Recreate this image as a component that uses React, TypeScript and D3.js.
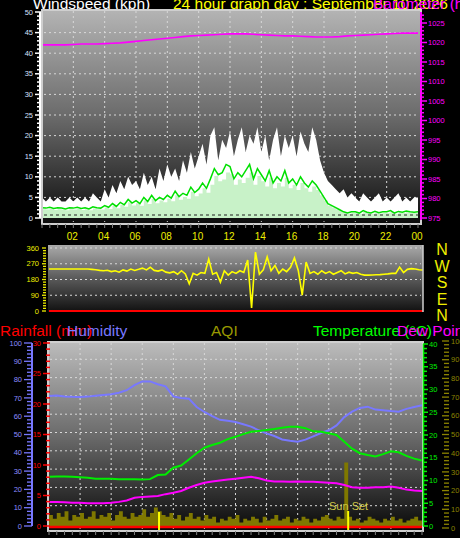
import React from "react";
import * as d3 from "d3";

// ---------- data ----------
const halfHours = d3.range(49).map((i) => i / 2);
const quarterHours = d3.range(97).map((i) => i / 4);
const hourTicks = [2, 4, 6, 8, 10, 12, 14, 16, 18, 20, 22, 24];
const hourLabels = ["02", "04", "06", "08", "10", "12", "14", "16", "18", "20", "22", "00"];
const speedTicks = [0, 5, 10, 15, 20, 25, 30, 35, 40, 45, 50];
const pressureTicks = [975, 980, 985, 990, 995, 1000, 1005, 1010, 1015, 1020, 1025];
const dirTicks = [0, 90, 180, 270, 360];
const compassLabels = ["N", "W", "S", "E", "N"];
const humidityTicks = [0, 10, 20, 30, 40, 50, 60, 70, 80, 90, 100];
const rainTicks = [0, 5, 10, 15, 20, 25, 30];
const tempTicks = [0, 5, 10, 15, 20, 25, 30, 35, 40];
const aqiTicks = [0, 10, 20, 30, 40, 50, 60, 70, 80, 90, 100];

// half-hourly series
const humidity = [
  71.0, 71.3, 70.8, 70.6, 70.5, 70.7, 71.2, 71.6, 72.0, 72.8, 74.2, 77.0, 79.0, 79.0, 77.5, 76.3,
  70.8, 70.0, 69.6, 65.0, 62.3, 60.0, 58.0, 57.5, 56.8, 55.6, 54.3, 52.3, 50.6, 49.2, 47.3, 46.6,
  46.1, 47.2, 49.0, 50.8, 52.3, 55.0, 59.5, 62.5, 64.5, 65.2, 63.6, 63.3, 62.8, 62.5, 64.0, 65.0, 66.0,
];
const temperature = [
  10.8, 10.9, 10.9, 10.8, 10.7, 10.6, 10.4, 10.4, 10.4, 10.3, 10.3, 10.3, 10.2, 10.3, 11.2, 11.3,
  12.8, 13.3, 14.6, 16.0, 17.2, 17.8, 18.3, 19.1, 19.6, 20.2, 20.7, 20.9, 21.1, 21.3, 21.6, 21.8,
  21.8, 21.5, 20.8, 20.7, 20.4, 20.0, 18.5, 17.0, 16.0, 15.6, 15.3, 15.8, 16.4, 16.2, 15.4, 14.8, 14.4,
];
const dewPoint = [
  5.3, 5.3, 5.2, 5.1, 5.1, 5.0, 5.0, 5.0, 5.1, 5.3, 5.6, 6.2, 6.4, 6.5, 6.6, 7.0,
  7.3, 7.7, 8.4, 9.0, 9.5, 9.8, 10.0, 10.2, 10.4, 10.6, 10.8, 10.5, 10.0, 9.8, 9.8, 9.7,
  9.8, 9.7, 9.7, 9.6, 9.5, 9.4, 9.0, 8.5, 8.4, 8.4, 8.5, 8.5, 8.7, 8.4, 8.0, 7.8, 7.7,
];
const pressure = [
  1019.4, 1019.4, 1019.4, 1019.4, 1019.5, 1019.6, 1019.6, 1019.6, 1019.7, 1019.8, 1019.9, 1020.1,
  1020.3, 1020.5, 1020.7, 1020.9, 1021.1, 1021.3, 1021.5, 1021.7, 1021.8, 1021.9, 1022.0, 1022.1,
  1022.2, 1022.2, 1022.2, 1022.1, 1022.0, 1021.9, 1021.8, 1021.7, 1021.7, 1021.6, 1021.5, 1021.4,
  1021.4, 1021.4, 1021.5, 1021.7, 1021.8, 1021.9, 1022.0, 1022.1, 1022.2, 1022.3, 1022.4, 1022.4, 1022.4,
];

// quarter-hourly series
const aqi = [
  7, 5, 8, 6, 9, 4, 7, 6,
  8, 5, 6, 9, 5, 7, 6, 8,
  4, 7, 9, 6, 5, 8, 6, 7,
  10, 6, 8, 11, 9, 7, 6, 8,
  5, 7, 4, 6, 8, 5, 6, 4,
  7, 5, 6, 3, 5, 4, 6, 5,
  7, 3, 5, 4, 6, 5, 3, 6,
  4, 5, 7, 4, 5, 6, 3, 5,
  4, 6, 5, 3, 5, 4, 6, 7,
  5, 4, 6, 5, 35, 6, 4, 5,
  3, 4, 6, 5, 4, 3, 5, 4,
  6, 4, 5, 3, 4, 5, 6, 4,
  8,
];
const windGust = [
  5, 4, 5, 4, 5, 4, 4, 5,
  4, 5, 4, 5, 4, 6, 5, 4,
  7, 5, 8, 6, 9, 7, 10, 8,
  9, 7, 11, 8, 10, 7, 12, 9,
  13, 10, 12, 9, 14, 11, 16, 12,
  15, 18, 13, 20, 22, 14, 19, 17,
  21, 15, 19, 22, 16, 20, 18, 22,
  16, 20, 14, 19, 22, 15, 20, 17,
  20, 15, 21, 18, 16, 22, 19, 14,
  11, 9, 8, 7, 6, 7, 5, 6,
  5, 4, 6, 5, 4, 5, 6, 4,
  5, 4, 5, 6, 4, 5, 4, 5,
  5,
];
const windAvg = [
  2.5, 2.4, 2.6, 2.3, 2.5, 2.4, 2.2, 2.5,
  2.4, 2.6, 2.3, 2.5, 2.2, 2.7, 2.5, 2.4,
  3.0, 2.6, 3.5, 2.8, 3.8, 3.2, 4.5, 3.6,
  4.2, 3.5, 5.0, 4.0, 5.5, 4.2, 5.0, 4.5,
  5.5, 4.8, 6.5, 5.2, 6.0, 5.5, 7.5, 6.2,
  7.0, 8.5, 7.2, 9.5, 12.0, 10.5, 11.0, 13.0,
  12.5, 9.5, 11.0, 10.0, 11.5, 13.0, 9.5, 12.0,
  10.5, 9.0, 11.5, 8.5, 10.0, 9.0, 11.5, 8.5,
  9.5, 8.0, 10.0, 8.5, 7.5, 9.0, 8.0, 6.5,
  5.0, 3.5, 3.0, 2.5, 2.0, 1.5, 1.2, 1.5,
  1.5, 1.2, 1.8, 1.4, 1.2, 1.6, 1.3, 1.5,
  1.5, 1.8, 1.2, 1.6, 1.4, 1.7, 1.5, 1.4,
  1.5,
];
const windDir = [
  240, 240, 240, 240, 240, 240, 240, 240,
  240, 240, 240, 238, 236, 232, 230, 233,
  225, 230, 222, 235, 228, 240, 232, 238,
  245, 235, 250, 232, 228, 235, 222, 218,
  225, 210, 230, 212, 155, 215, 205, 220,
  215, 297, 210, 220, 165, 230, 205, 225,
  215, 230, 220, 291, 17, 337, 210, 235,
  309, 230, 260, 215, 240, 225, 250, 303,
  230, 91, 280, 215, 225, 210, 230, 215,
  225, 210, 220, 230, 212, 222, 215, 220,
  210, 205, 205, 206, 207, 208, 210, 212,
  215, 215, 251, 220, 238, 242, 240, 236,
  234,
];

const FONT = "'Liberation Sans', Arial, Helvetica, sans-serif";
const GRID = "#d8d8d8";

export default function App() {
  // scales
  const xTop = d3.scaleLinear().domain([0, 24]).range([42, 418]);
  const ySpeed = d3.scaleLinear().domain([0, 50]).range([218, 12]);
  const yPress = d3.scaleLinear().domain([975, 1025]).range([218, 23]);
  const xMid = d3.scaleLinear().domain([0, 24]).range([49, 423]);
  const yDir = d3.scaleLinear().domain([0, 360]).range([311, 248]);
  const xBot = d3.scaleLinear().domain([0, 24]).range([49, 422]);
  const yHum = d3.scaleLinear().domain([0, 100]).range([526, 343]);
  const yRain = d3.scaleLinear().domain([0, 30]).range([526, 343]);
  const yTemp = d3.scaleLinear().domain([0, 40]).range([526, 344]);
  const yAqi = d3.scaleLinear().domain([0, 100]).range([528, 341]);

  // shapes
  const gustArea = d3
    .area<number>()
    .x((_, i) => xTop(quarterHours[i]))
    .y0(ySpeed(0))
    .y1((d) => ySpeed(d))
    .curve(d3.curveLinear);
  const avgArea = d3
    .area<number>()
    .x((_, i) => xTop(quarterHours[i]))
    .y0(ySpeed(0))
    .y1((d) => ySpeed(d * 0.85))
    .curve(d3.curveStepAfter);
  const avgLine = d3
    .line<number>()
    .x((_, i) => xTop(quarterHours[i]))
    .y((d) => ySpeed(d));
  const pressLine = d3
    .line<number>()
    .x((_, i) => xTop(halfHours[i]))
    .y((d) => yPress(d));
  const dirLine = d3
    .line<number>()
    .x((_, i) => xMid(quarterHours[i]))
    .y((d) => yDir(d));
  const aqiArea = d3
    .area<number>()
    .x((_, i) => xBot(quarterHours[i]))
    .y0(yAqi(0))
    .y1((d) => yAqi(d))
    .curve(d3.curveStepAfter);
  const botLine = (ys: d3.ScaleLinear<number, number>) =>
    d3
      .line<number>()
      .x((_, i) => xBot(halfHours[i]))
      .y((d) => ys(d));

  const halfHourMarks = d3.range(0, 24.01, 0.5);

  return (
    <svg
      width={460}
      height={538}
      style={{ position: "absolute", left: 0, top: 0, background: "#000" }}
      fontFamily={FONT}
    >
      <defs>
        <linearGradient id="gTop" x1="0" y1="0" x2="0" y2="1">
          <stop offset="0" stopColor="#b4b4b4" />
          <stop offset="0.5" stopColor="#6a6a6a" />
          <stop offset="1" stopColor="#0c0c0c" />
        </linearGradient>
        <linearGradient id="gMid" x1="0" y1="0" x2="0" y2="1">
          <stop offset="0" stopColor="#aaaaaa" />
          <stop offset="0.5" stopColor="#5a5a5a" />
          <stop offset="1" stopColor="#101010" />
        </linearGradient>
        <linearGradient id="gBot" x1="0" y1="0" x2="0" y2="1">
          <stop offset="0" stopColor="#bcbcbc" />
          <stop offset="0.5" stopColor="#6a6a6a" />
          <stop offset="1" stopColor="#080808" />
        </linearGradient>
      </defs>
      <rect x={0} y={0} width={460} height={538} fill="#000" />

      {/* ---------- TOP PANEL ---------- */}
      <text x={33} y={9} fontSize={15.5} fill="#ffffff">Windspeed (kph)</text>
      <text x={173} y={9} fontSize={15.5} fill="#ffff00">24 hour graph day : September 10 2026</text>
      <text x={373} y={9} fontSize={15.5} fill="#ff00ff">Barometer (hPa)</text>

      <rect x={42} y={10} width={379} height={214} fill="url(#gTop)" />
      {speedTicks.slice(1, -1).map((t) => (
        <line key={"hs" + t} x1={44} x2={419} y1={ySpeed(t)} y2={ySpeed(t)} stroke={GRID} strokeDasharray="2,3" />
      ))}
      {hourTicks.slice(0, -1).map((h) => (
        <line key={"vt" + h} x1={xTop(h)} x2={xTop(h)} y1={11} y2={222} stroke={GRID} strokeDasharray="2,3" />
      ))}
      <path d={gustArea(windGust) ?? ""} fill="#ffffff" />
      <path d={avgArea(windAvg) ?? ""} fill="#c8f2c8" />
      <path d={avgLine(windAvg) ?? ""} fill="none" stroke="#00e000" strokeWidth={1.5} />
      <line x1={44} x2={419} y1={ySpeed(0) - 3} y2={ySpeed(0) - 3} stroke="#202020" strokeWidth={1} strokeDasharray="3,3" />
      <path d={pressLine(pressure) ?? ""} fill="none" stroke="#ff00ff" strokeWidth={1.6} />
      <rect x={42} y={10} width={379} height={214} fill="none" stroke="#cfcfcf" strokeWidth={2} />
      {halfHourMarks.map((h) => (
        <line key={"tb" + h} x1={xTop(h)} x2={xTop(h)} y1={224} y2={228} stroke="#808080" strokeWidth={1} />
      ))}

      {/* left speed axis */}
      <line x1={40} x2={40} y1={ySpeed(0)} y2={ySpeed(50)} stroke="#ffffff" strokeWidth={2} />
      {d3.range(0, 51, 1).map((t) => (
        <line
          key={"st" + t}
          x1={t % 5 === 0 ? 35 : 37}
          x2={41}
          y1={ySpeed(t)}
          y2={ySpeed(t)}
          stroke="#ffffff"
          strokeWidth={1.5}
        />
      ))}
      {speedTicks.map((t) => (
        <text key={"sl" + t} x={33} y={ySpeed(t)} dy="0.35em" fontSize={7.5} textAnchor="end" fill="#d8e0ff">
          {t}
        </text>
      ))}

      {/* right pressure axis */}
      <line x1={421} x2={421} y1={12} y2={220} stroke="#ff00ff" strokeWidth={2} />
      {d3.range(975, 1028, 1).map((t) => (
        <line
          key={"pt" + t}
          x1={421}
          x2={t % 5 === 0 ? 427 : 424}
          y1={yPress(t)}
          y2={yPress(t)}
          stroke="#ff00ff"
          strokeWidth={1.5}
        />
      ))}
      {pressureTicks.map((t) => (
        <text key={"pl" + t} x={428} y={yPress(t)} dy="0.35em" fontSize={7.5} fill="#ff00ff">
          {t}
        </text>
      ))}

      {hourTicks.map((h, i) => (
        <text key={"hl" + h} x={xTop(h) - 1} y={240} fontSize={10} textAnchor="middle" fill="#eeee00">
          {hourLabels[i]}
        </text>
      ))}

      {/* ---------- MIDDLE PANEL ---------- */}
      <rect x={48} y={245} width={375} height={67} fill="url(#gMid)" />
      {dirTicks.slice(1).map((t) => (
        <line key={"dg" + t} x1={50} x2={421} y1={yDir(t)} y2={yDir(t)} stroke={GRID} strokeDasharray="2,3" />
      ))}
      <line x1={49} x2={423} y1={yDir(0)} y2={yDir(0)} stroke="#ff0000" strokeWidth={2} />
      <path d={dirLine(windDir) ?? ""} fill="none" stroke="#ffff00" strokeWidth={1.6} />
      <line x1={423} x2={423} y1={245} y2={312} stroke="#cfcfcf" strokeWidth={1.5} />
      {d3.range(0, 361, 15).map((t) => (
        <line
          key={"dt" + t}
          x1={t % 90 === 0 ? 42 : 43}
          x2={46}
          y1={yDir(t)}
          y2={yDir(t)}
          stroke="#eeee00"
          strokeWidth={1.3}
        />
      ))}
      {dirTicks.map((t) => (
        <text key={"dl" + t} x={39} y={yDir(t)} dy="0.35em" fontSize={7.5} textAnchor="end" fill="#eeee00">
          {t}
        </text>
      ))}
      {compassLabels.map((c, i) => (
        <text key={"cp" + i} x={442} y={255 + i * 16.5} fontSize={16} textAnchor="middle" fill="#eeee00">
          {c}
        </text>
      ))}

      {/* ---------- BOTTOM PANEL ---------- */}
      <text x={0} y={336} fontSize={15.5} fill="#ff0000">Rainfall (mm)</text>
      <text x={67} y={336} fontSize={15.5} fill="#7878ff">Humidity</text>
      <text x={211} y={336} fontSize={15.5} fill="#999900">AQI</text>
      <text x={313} y={336} fontSize={15.5} fill="#00ff00">Temperature (°C)</text>
      <text x={397} y={336} fontSize={15.5} fill="#ff00ff">Dew Point</text>

      <rect x={48} y={342} width={375} height={189} fill="url(#gBot)" />
      {humidityTicks.slice(1, -1).map((t) => (
        <line key={"bg" + t} x1={50} x2={421} y1={yHum(t) - 2} y2={yHum(t) - 2} stroke={GRID} strokeDasharray="2,3" />
      ))}
      {hourTicks.slice(0, -1).map((h) => (
        <line key={"bv" + h} x1={xBot(h)} x2={xBot(h)} y1={343} y2={529} stroke={GRID} strokeDasharray="2,3" />
      ))}
      <path d={aqiArea(aqi) ?? ""} fill="#7f7800" />
      <line x1={xBot(0)} x2={xBot(24)} y1={yRain(0) + 1} y2={yRain(0) + 1} stroke="#ff0000" strokeWidth={2.5} />
      <path d={botLine(yHum)(humidity) ?? ""} fill="none" stroke="#7878ff" strokeWidth={2} />
      <path d={botLine(yTemp)(temperature) ?? ""} fill="none" stroke="#00ee00" strokeWidth={2} />
      <path d={botLine(yTemp)(dewPoint) ?? ""} fill="none" stroke="#ff00ff" strokeWidth={2} />

      {/* sunrise / sunset markers */}
      <line x1={xBot(7.08)} x2={xBot(7.08)} y1={512} y2={530} stroke="#ffff00" strokeWidth={2} />
      <line x1={xBot(19.25)} x2={xBot(19.25)} y1={511} y2={530} stroke="#ffff00" strokeWidth={2} />
      <text x={329} y={510} fontSize={11} fill="#d0c848">Sun Set</text>

      <rect x={48} y={342} width={375} height={189} fill="none" stroke="#cfcfcf" strokeWidth={2} />
      {halfHourMarks.map((h) => (
        <line key={"bb" + h} x1={xBot(h)} x2={xBot(h)} y1={531} y2={535} stroke="#808080" strokeWidth={1} />
      ))}

      {/* humidity axis */}
      <line x1={32} x2={32} y1={yHum(0)} y2={yHum(100)} stroke="#7878ff" strokeWidth={2} />
      {d3.range(0, 101, 2).map((t) => (
        <line
          key={"ht" + t}
          x1={t % 10 === 0 ? 24 : 27}
          x2={32}
          y1={yHum(t)}
          y2={yHum(t)}
          stroke="#7878ff"
          strokeWidth={1.3}
        />
      ))}
      {humidityTicks.map((t) => (
        <text key={"hlb" + t} x={22} y={yHum(t)} dy="0.35em" fontSize={7.5} textAnchor="end" fill="#8c8cff">
          {t}
        </text>
      ))}

      {/* rain axis */}
      {d3.range(0, 31, 1).map((t) => (
        <line
          key={"rt" + t}
          x1={t % 5 === 0 ? 43 : 46}
          x2={50}
          y1={yRain(t)}
          y2={yRain(t)}
          stroke="#ff0000"
          strokeWidth={1.5}
        />
      ))}
      {rainTicks.map((t) => (
        <text key={"rl" + t} x={41} y={yRain(t)} dy="0.35em" fontSize={7.5} textAnchor="end" fill="#ff0000">
          {t}
        </text>
      ))}

      {/* temperature axis */}
      <line x1={423.5} x2={423.5} y1={yTemp(0)} y2={yTemp(40)} stroke="#00ee00" strokeWidth={1.5} />
      {d3.range(0, 41, 1).map((t) => (
        <line
          key={"tt" + t}
          x1={423}
          x2={t % 5 === 0 ? 428 : 427}
          y1={yTemp(t)}
          y2={yTemp(t)}
          stroke="#00ee00"
          strokeWidth={1.5}
        />
      ))}
      {tempTicks.map((t) => (
        <text key={"tl" + t} x={429} y={yTemp(t)} dy="0.35em" fontSize={7.5} fill="#00ee00">
          {t}
        </text>
      ))}

      {/* AQI axis */}
      {d3.range(0, 101, 2).map((t) => (
        <line
          key={"at" + t}
          x1={t % 10 === 0 ? 442 : 444}
          x2={449}
          y1={yAqi(t)}
          y2={yAqi(t)}
          stroke="#8c8400"
          strokeWidth={1.3}
        />
      ))}
      {aqiTicks.map((t) => (
        <text key={"al" + t} x={451} y={yAqi(t)} dy="0.35em" fontSize={7.5} fill="#8c8400">
          {t}
        </text>
      ))}
    </svg>
  );
}
